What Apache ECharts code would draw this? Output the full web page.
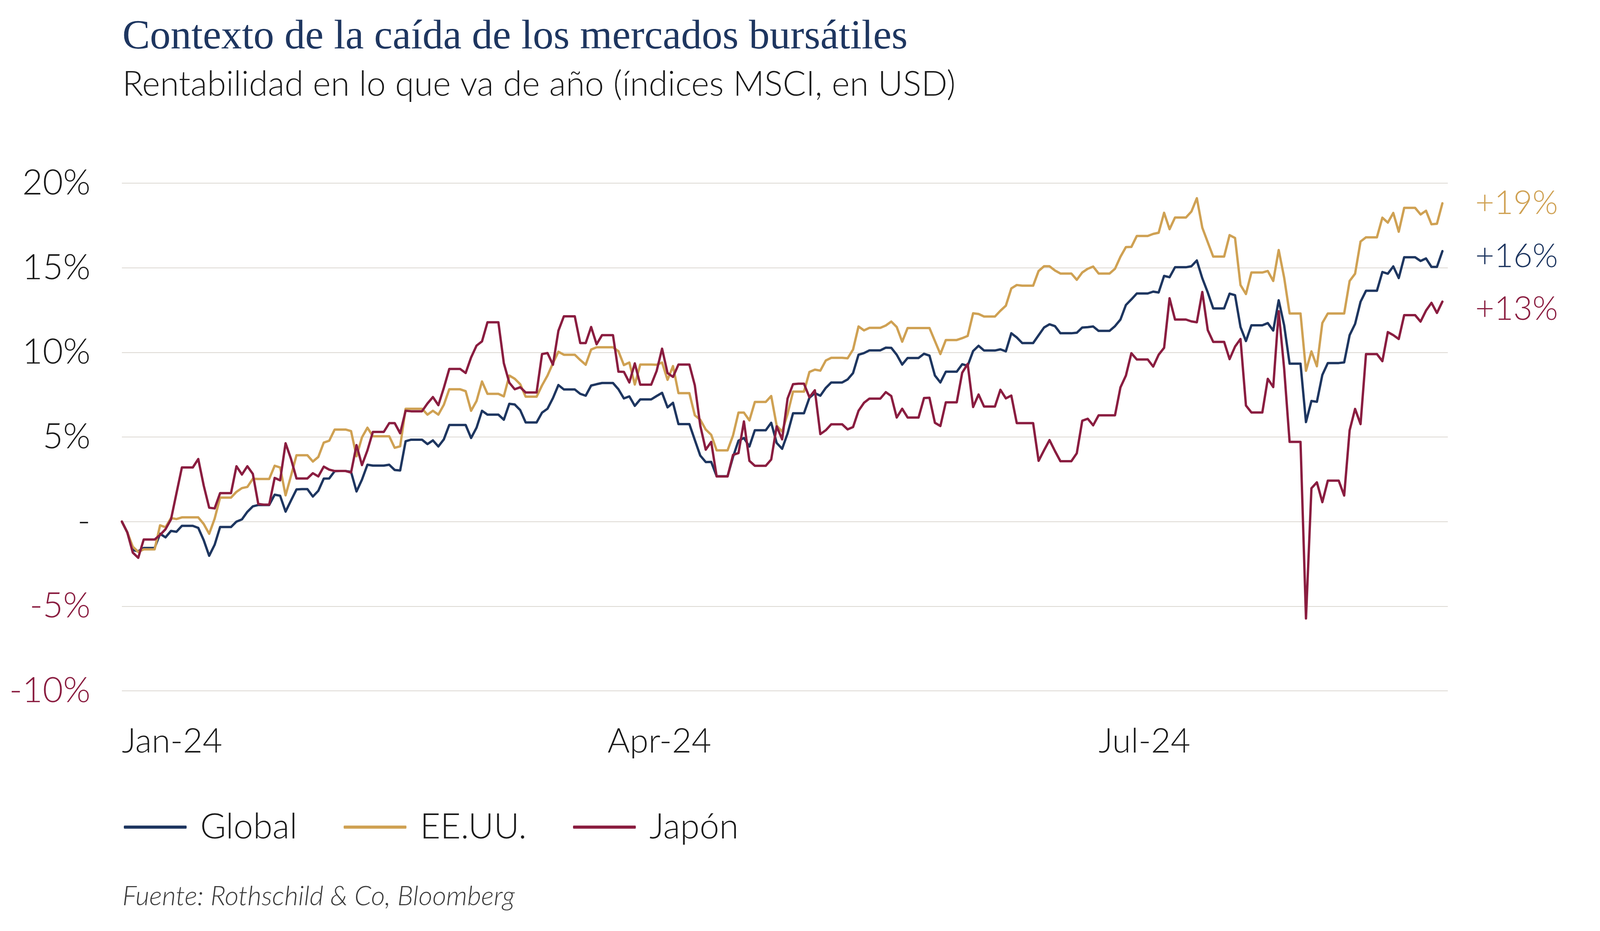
<!DOCTYPE html>
<html>
<head>
<meta charset="utf-8">
<script src="https://cdn.jsdelivr.net/npm/echarts@6/dist/echarts.min.js"></script>
<style>
html,body{margin:0;padding:0;background:#fff;overflow:hidden;}
#chart{width:100vw;height:100vh;}
</style>
</head>
<body>
<div id="chart"></div>
<script>
// ---- Data (YTD return, %, daily calendar from 2024-01-01) ----
const startDate = '2024-01-01';
const seriesNames = ['Global', 'EE.UU.', 'Japón'];
const xTickDates = ['2024-01-01', '2024-03-30', '2024-06-28'];
const xTickLabels = ['Jan-24', 'Apr-24', 'Jul-24'];
const yTickValues = [-10, -5, 0, 5, 10, 15, 20];

const globalValues = [
0,-0.64,-1.68,-1.75,-1.56,-1.56,-1.56,-0.72,-0.93,-0.55,-0.6,-0.25,-0.25,-0.25,-0.37,-1.1,-2.02,-1.37,-0.32,-0.32,
-0.32,0,0.13,0.58,0.9,0.98,0.98,0.98,1.59,1.53,0.59,1.25,1.9,1.92,1.92,1.48,1.82,2.54,2.55,2.98,
2.99,2.99,2.94,1.78,2.48,3.36,3.31,3.31,3.31,3.36,3.05,3.02,4.75,4.84,4.84,4.84,4.58,4.8,4.44,4.86,
5.71,5.71,5.71,5.71,4.94,5.55,6.55,6.32,6.32,6.32,6.02,6.96,6.92,6.59,5.86,5.86,5.86,6.44,6.67,7.3,
8.07,7.81,7.81,7.81,7.55,7.44,8.04,8.12,8.19,8.19,8.19,7.82,7.28,7.4,6.84,7.22,7.22,7.22,7.42,7.61,
6.75,7.02,5.76,5.76,5.76,4.82,3.9,3.52,3.53,2.68,2.68,2.68,3.82,4.78,4.94,4.44,5.4,5.4,5.4,5.84,
4.65,4.3,5.21,6.4,6.4,6.4,7.32,7.59,7.44,7.9,8.22,8.22,8.22,8.4,8.78,9.86,9.96,10.12,10.12,10.12,
10.28,10.27,9.86,9.28,9.67,9.67,9.67,9.92,9.81,8.63,8.22,8.86,8.86,8.86,9.3,9.21,10.08,10.39,10.11,10.11,
10.11,10.18,10.06,11.13,10.88,10.55,10.55,10.55,11.01,11.47,11.66,11.55,11.13,11.13,11.13,11.16,11.47,11.49,11.53,11.27,
11.27,11.27,11.55,11.94,12.8,13.13,13.48,13.48,13.48,13.59,13.54,14.52,14.44,15.03,15.03,15.03,15.09,15.43,14.38,13.54,
12.6,12.6,12.6,13.47,13.38,11.5,10.67,11.6,11.6,11.6,11.73,11.29,13.08,11.6,9.33,9.33,9.33,5.88,7.13,7.08,
8.67,9.37,9.37,9.37,9.41,11.02,11.68,12.99,13.64,13.64,13.64,14.75,14.65,15.08,14.39,15.62,15.62,15.62,15.4,15.55,
15.05,15.05,15.98
];

const usValues = [
0,-0.64,-1.48,-1.79,-1.64,-1.64,-1.64,-0.22,-0.33,0.21,0.15,0.25,0.25,0.25,0.25,-0.14,-0.72,0.17,1.42,1.42,
1.42,1.76,1.98,2.05,2.53,2.52,2.52,2.52,3.3,3.2,1.55,2.71,3.92,3.92,3.92,3.55,3.82,4.67,4.78,5.44,
5.44,5.44,5.35,3.86,4.98,5.55,5.04,5.04,5.04,5.04,4.36,4.45,6.67,6.67,6.67,6.67,6.32,6.55,6.32,6.9,
7.82,7.82,7.82,7.71,6.55,7.13,8.28,7.55,7.55,7.55,7.4,8.63,8.44,8.12,7.38,7.38,7.38,8.05,8.63,9.36,
10.04,9.86,9.86,9.86,9.55,9.27,10.17,10.3,10.3,10.3,10.3,10.07,9.25,9.4,8.1,9.28,9.28,9.28,9.27,9.4,
8.38,9.19,7.59,7.59,7.59,6.28,6.02,5.44,5.13,4.21,4.21,4.21,5.09,6.44,6.44,5.98,7.07,7.07,7.07,7.42,
5.67,5.32,6.36,7.68,7.68,7.68,8.84,8.98,8.92,9.52,9.68,9.68,9.68,9.65,10.17,11.53,11.3,11.45,11.45,11.45,
11.59,11.82,11.5,10.63,11.44,11.44,11.44,11.44,11.44,10.67,9.9,10.73,10.73,10.73,10.84,10.97,12.31,12.27,12.12,12.12,
12.12,12.46,12.76,13.78,13.98,13.94,13.94,13.94,14.81,15.09,15.09,14.84,14.66,14.66,14.66,14.29,14.72,14.94,15.07,14.66,
14.66,14.66,14.94,15.65,16.22,16.23,16.88,16.88,16.88,17.0,17.07,18.25,17.28,17.97,17.97,17.97,18.32,19.11,17.37,16.51,
15.66,15.66,15.66,16.93,16.76,13.98,13.45,14.72,14.72,14.72,14.81,14.22,16.05,14.42,12.3,12.3,12.3,8.91,10.06,9.18,
11.74,12.3,12.3,12.3,12.3,14.22,14.65,16.55,16.8,16.8,16.8,17.96,17.67,18.24,17.13,18.54,18.54,18.54,18.15,18.37,
17.57,17.6,18.81
];

const japanValues = [
0,-0.64,-1.83,-2.14,-1.06,-1.06,-1.06,-0.79,-0.45,0.13,1.67,3.2,3.2,3.2,3.7,2.13,0.82,0.78,1.68,1.68,
1.68,3.27,2.78,3.27,2.82,1.04,1.0,1.0,2.58,2.44,4.63,3.7,2.55,2.55,2.55,2.86,2.67,3.25,3.07,2.99,
2.99,2.99,2.9,4.52,3.34,4.21,5.3,5.3,5.3,5.82,5.82,5.22,6.55,6.52,6.52,6.52,6.98,7.36,6.88,7.9,
9.02,9.02,9.02,8.78,9.7,10.4,10.65,11.78,11.78,11.78,9.36,8.21,7.82,7.94,7.63,7.63,7.63,9.9,9.96,9.27,
11.28,12.13,12.13,12.13,10.55,10.55,11.5,10.48,11.02,11.02,11.02,8.86,8.85,8.22,9.35,8.09,8.09,8.09,8.9,10.22,
8.78,8.55,9.28,9.28,9.28,8.05,5.67,4.25,4.71,2.67,2.67,2.67,3.94,4.05,5.92,3.59,3.3,3.3,3.3,3.67,
5.63,4.86,7.28,8.12,8.15,8.15,7.35,7.76,5.17,5.4,5.75,5.75,5.75,5.45,5.59,6.55,7.02,7.27,7.27,7.27,
7.65,7.42,6.15,6.67,6.15,6.15,6.15,7.3,7.32,5.84,5.65,7.05,7.05,7.05,8.8,9.32,6.77,7.51,6.8,6.8,
6.8,7.79,7.28,7.45,5.82,5.82,5.82,5.82,3.59,4.22,4.82,4.17,3.57,3.57,3.57,4.04,5.96,6.08,5.69,6.28,
6.28,6.28,6.28,7.93,8.63,9.95,9.58,9.58,9.58,9.16,9.86,10.27,13.2,11.94,11.94,11.94,11.83,11.78,13.57,11.32,
10.62,10.62,10.62,9.6,10.34,10.79,6.86,6.45,6.45,6.45,8.44,7.95,12.43,9.04,4.71,4.71,4.71,-5.72,1.97,2.32,
1.15,2.42,2.42,2.42,1.54,5.39,6.66,5.76,9.9,9.9,9.9,9.48,11.2,11.02,10.79,12.2,12.2,12.2,11.82,12.47,
12.93,12.33,13.0
];

// ---- Styles ----
const COLORS = ['#1e3660', '#cfa153', '#8a1d40'];
const SANS = 'Lato, "Noto Sans", sans-serif';
const SERIF = '"Liberation Serif", "DejaVu Serif", serif';

// layout designed on a 4280x2384 page; scaled to the actual viewport
const W = window.innerWidth || 4280;
const H = window.innerHeight || 2384;
const sx = W / 4280, sy = H / 2384;

// Category axis: one calendar day per category, plus one trailing day
const nDays = globalValues.length + 1;
const categories = [];
{
  const d0 = new Date(startDate + 'T00:00:00Z');
  for (let i = 0; i < nDays; i++) {
    const d = new Date(d0.getTime() + i * 86400000);
    categories.push(d.toISOString().slice(0, 10));
  }
}

const chart = echarts.init(document.getElementById('chart'), null, {renderer: 'canvas', width: W, height: H});

function lineSeries(name, values, color, labelOffsetY) {
  return {
    name: name,
    type: 'line',
    data: values,
    symbol: 'none',
    showSymbol: false,
    lineStyle: {color: color, width: 6, cap: 'round', join: 'round'},
    itemStyle: {color: color},
    emphasis: {disabled: true},
    endLabel: {
      show: true,
      formatter: function (p) { return '+' + Math.round(p.value) + '%'; },
      color: color,
      fontFamily: SANS,
      fontWeight: 300,
      fontSize: 84,
      distance: 88 * sx,
      offset: [0, labelOffsetY * sy]
    },
    animation: false
  };
}

chart.setOption({
  animation: false,
  backgroundColor: '#ffffff',
  title: [
    {
      text: 'Contexto de la caída de los mercados bursátiles',
      left: 322 * sx, top: 38 * sy,
      textStyle: {fontFamily: SERIF, fontWeight: 'normal', fontSize: 106, color: '#1e3660'}
    },
    {
      text: 'Rentabilidad en lo que va de año (índices MSCI, en USD)',
      left: 322 * sx, top: 168 * sy,
      textStyle: {fontFamily: SANS, fontWeight: 300, fontSize: 88, color: '#1a1a1a'}
    },
    {
      text: 'Fuente: Rothschild & Co, Bloomberg',
      left: 322 * sx, top: 2256 * sy,
      textStyle: {fontFamily: SANS, fontStyle: 'italic', fontWeight: 300, fontSize: 69, color: '#3a3a3a'}
    }
  ],
  legend: {
    data: seriesNames,
    left: 326 * sx, top: 2068 * sy,
    itemWidth: 168 * sx, itemHeight: 8,
    itemGap: 124 * sx,
    icon: 'roundRect',
    textStyle: {fontFamily: SANS, fontWeight: 300, fontSize: 90, color: '#1a1a1a', padding: [0, 0, 0, 31 * sx]},
    selectedMode: false
  },
  grid: {left: 326 * sx, right: 407 * sx, top: 469 * sy, bottom: (2384 - 1769) * sy, containLabel: false},
  xAxis: {
    type: 'category',
    data: categories,
    boundaryGap: false,
    axisLine: {show: false},
    axisTick: {show: false},
    splitLine: {show: false},
    axisLabel: {
      interval: function (idx, val) { return xTickDates.indexOf(val) >= 0; },
      formatter: function (val) { const i = xTickDates.indexOf(val); return i >= 0 ? xTickLabels[i] : ''; },
      align: 'left',
      margin: 86 * sy,
      fontFamily: SANS, fontWeight: 300, fontSize: 87, color: '#1a1a1a'
    }
  },
  yAxis: {
    type: 'value',
    min: yTickValues[0], max: yTickValues[yTickValues.length - 1], interval: 5,
    axisLine: {show: false},
    axisTick: {show: false},
    splitLine: {show: true, lineStyle: {color: '#dcd8d2', width: 2}},
    axisLabel: {
      margin: 84 * sx,
      formatter: function (v) { return v === 0 ? '-' : v + '%'; },
      color: function (v) { return Number(v) < 0 ? '#8a1d40' : '#1a1a1a'; },
      fontFamily: SANS, fontWeight: 300, fontSize: 90
    }
  },
  series: [
    lineSeries(seriesNames[0], globalValues, COLORS[0], 14),
    lineSeries(seriesNames[1], usValues, COLORS[1], 0),
    lineSeries(seriesNames[2], japanValues, COLORS[2], 20)
  ]
});
</script>
</body>
</html>
